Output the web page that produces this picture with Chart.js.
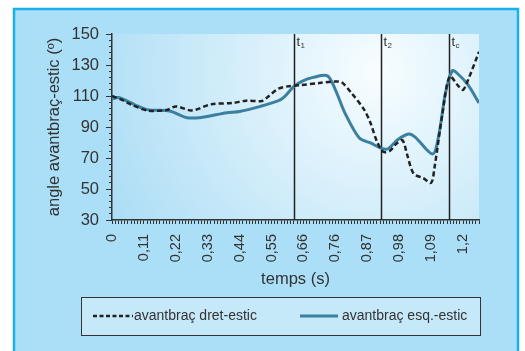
<!DOCTYPE html>
<html>
<head>
<meta charset="utf-8">
<script src="https://cdn.jsdelivr.net/npm/chart.js@4.4.1/dist/chart.umd.min.js"></script>
<style>
  body { margin: 0; background: #fff; }
  #wrap { width: 525px; height: 351px; }
</style>
</head>
<body>
<div id="wrap"><canvas id="myChart" width="525" height="351"></canvas></div>
<script>
// x positions are sample numbers (about 0.011 s each), tick label every 10 samples
const tickLabels = ['0', '0,11', '0,22', '0,33', '0,44', '0,55', '0,66', '0,76', '0,87', '0,98', '1,09', '1,2'];

const dretX = [0, 3, 6, 11, 17, 20, 25, 31, 38, 42, 47, 49, 52, 55, 59, 65, 70, 72, 75, 79, 81, 83, 85, 87, 89, 91, 92.5, 94.5, 97.5, 100, 101, 103.5, 105.8, 108.5, 110, 111.5, 115];
const dretY = [110, 107.6, 104.5, 100.7, 100.9, 103.3, 100.7, 104.6, 105.5, 107, 106.8, 109.7, 114.6, 116.2, 117, 118.4, 119.4, 118.8, 112, 101.2, 92.6, 80.7, 74, 74.5, 79, 81.5, 72, 60, 57, 54, 63, 98, 122.6, 116.5, 114, 120, 138.5];

const esqX = [0, 2, 7, 11, 17, 19, 23.5, 28, 36, 40, 46.5, 52, 54, 57, 59.5, 63, 67.5, 70, 73, 77.5, 81, 84.5, 86.5, 89.5, 93, 95, 100.5, 102.5, 104.5, 106.6, 108, 111.5, 115];
const esqY = [108, 109, 104.5, 101.2, 100.7, 99.8, 96, 96.2, 99.2, 100, 103.3, 106.8, 109.4, 116.2, 119.5, 122, 123, 114, 99, 82.9, 79.7, 76.2, 76, 81.8, 85.5, 83.5, 72.6, 86, 112, 126.3, 125, 117.3, 105.5];

const markerPos = [56.9, 84.2, 105.7];
const markerSub = ['1', '2', 'c'];

const FONT = "'Liberation Sans', Arial, sans-serif";
const TEAL = '#3b80a0';

function pts(xs, ys) {
  return xs.map((x, i) => ({ x: x, y: ys[i] }));
}

const panel = {
  id: 'panel',
  beforeDraw(chart) {
    const ctx = chart.ctx;
    const a = chart.chartArea;
    ctx.save();
    ctx.fillStyle = '#fff';
    ctx.fillRect(0, 0, chart.width, chart.height);
    ctx.fillStyle = '#aadff7';
    ctx.fillRect(14, 9, 504, 360);
    ctx.strokeStyle = '#19b1ea';
    ctx.lineWidth = 2.5;
    ctx.strokeRect(14, 9, 504, 360);

    const g = ctx.createRadialGradient(a.left + a.width * 0.72, a.top + a.height * 0.2, 0,
      a.left + a.width * 0.72, a.top + a.height * 0.2, 330);
    g.addColorStop(0, '#f8fdff');
    g.addColorStop(1, '#a4daf4');
    ctx.fillStyle = g;
    ctx.fillRect(a.left, a.top, a.width, a.height);
    ctx.restore();
  },
  beforeDatasetsDraw(chart) {
    const ctx = chart.ctx;
    const a = chart.chartArea;
    const xs = chart.scales.x;
    const ys = chart.scales.y;
    ctx.save();
    // longer ticks at the labelled y values
    ctx.strokeStyle = '#333';
    ctx.lineWidth = 1;
    ys.ticks.forEach(t => {
      if (t.value % 20 !== 10) return;
      const py = Math.round(ys.getPixelForValue(t.value)) + 0.5;
      ctx.beginPath();
      ctx.moveTo(a.left - 6, py);
      ctx.lineTo(a.left, py);
      ctx.stroke();
    });

    ctx.strokeStyle = '#222';
    ctx.lineWidth = 1.5;
    markerPos.forEach((m, i) => {
      const px = Math.round(xs.getPixelForValue(m)) + 0.5;
      ctx.beginPath();
      ctx.moveTo(px, a.top);
      ctx.lineTo(px, a.bottom);
      ctx.stroke();
      ctx.fillStyle = '#333';
      ctx.textBaseline = 'alphabetic';
      ctx.font = '13px ' + FONT;
      ctx.fillText('t', px + 2, a.top + 12);
      ctx.font = '8px ' + FONT;
      ctx.fillText(markerSub[i], px + 6, a.top + 14);
    });
    ctx.restore();
  },
  afterDraw(chart) {
    const ctx = chart.ctx;
    const ds = chart.data.datasets;
    ctx.save();
    ctx.fillStyle = '#c6e9f9';
    ctx.fillRect(81, 297, 399, 38);
    ctx.strokeStyle = '#333';
    ctx.lineWidth = 1;
    ctx.strokeRect(81.5, 297.5, 399, 38);

    const y = 316;
    ctx.lineWidth = 2.5;
    ctx.strokeStyle = '#222';
    ctx.setLineDash([4, 2.5]);
    ctx.beginPath();
    ctx.moveTo(93, y);
    ctx.lineTo(133, y);
    ctx.stroke();
    ctx.setLineDash([]);
    ctx.lineWidth = 3;
    ctx.strokeStyle = TEAL;
    ctx.beginPath();
    ctx.moveTo(300, y);
    ctx.lineTo(338, y);
    ctx.stroke();

    ctx.fillStyle = '#333';
    ctx.font = '14px ' + FONT;
    ctx.textBaseline = 'middle';
    ctx.fillText(ds[0].label, 134, y);
    ctx.fillText(ds[1].label, 342, y);
    ctx.restore();
  }
};

const ctx = document.getElementById('myChart');

new Chart(ctx, {
  type: 'line',
  data: {
    datasets: [{
      label: 'avantbraç dret-estic',
      data: pts(dretX, dretY),
      borderColor: '#222',
      borderWidth: 2.5,
      borderDash: [5, 3],
      pointRadius: 0,
      tension: 0.3
    }, {
      label: 'avantbraç esq.-estic',
      data: pts(esqX, esqY),
      borderColor: TEAL,
      borderWidth: 3,
      pointRadius: 0,
      tension: 0.3
    }]
  },
  options: {
    responsive: false,
    animation: false,
    layout: { padding: { left: 40, top: 34, right: 46, bottom: 61 } },
    plugins: {
      legend: { display: false },
      tooltip: { enabled: false }
    },
    scales: {
      x: {
        type: 'linear',
        min: 0,
        max: 115,
        afterFit(s) { s.height = 70; },
        border: { color: '#333', width: 1.5 },
        grid: { drawOnChartArea: false, tickLength: 4, color: '#333' },
        ticks: {
          stepSize: 1,
          autoSkip: false,
          minRotation: 90,
          maxRotation: 90,
          padding: 10,
          color: '#333',
          font: { family: FONT, size: 14.5 },
          callback: v => (v % 10 === 0 ? tickLabels[v / 10] : '')
        },
        title: {
          display: true,
          text: 'temps (s)',
          color: '#333',
          font: { family: FONT, size: 16.5 },
          padding: { top: 0, bottom: 1 }
        }
      },
      y: {
        min: 30,
        max: 150,
        afterFit(s) { s.width = 72; },
        border: { color: '#333', width: 1.5 },
        grid: { drawOnChartArea: false, tickLength: 3, color: '#333' },
        ticks: {
          stepSize: 4,
          autoSkip: false,
          padding: 10,
          color: '#333',
          font: { family: FONT, size: 16.5 },
          callback: v => (v % 20 === 10 ? v : '')
        },
        title: {
          display: true,
          text: 'angle avantbraç-estic (º)',
          color: '#333',
          font: { family: FONT, size: 16.5 },
          padding: { top: 5, bottom: 0 }
        }
      }
    }
  },
  plugins: [panel]
});
</script>
</body>
</html>
